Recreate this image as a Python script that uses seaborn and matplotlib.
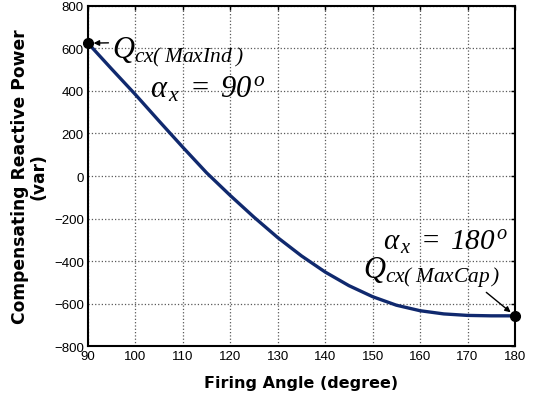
import matplotlib
matplotlib.use("Agg")
import matplotlib.pyplot as plt
import seaborn as sns
import pandas as pd

# Firing angle (degree) and compensating reactive power (var)
firing_angle = [90, 95, 100, 105, 110, 115, 120, 125, 130, 135, 140,
                145, 150, 155, 160, 165, 170, 175, 180]
reactive_power = [625, 503, 383, 258, 135, 15, -92, -194, -290, -376, -452,
                  -516, -568, -608, -634, -649, -656, -658, -658]

x_ticks = list(range(90, 181, 10))
y_ticks = list(range(-800, 801, 200))

df = pd.DataFrame({"angle": firing_angle, "q": reactive_power})

sns.set_style("white")
plt.rcParams["font.family"] = ["Liberation Sans", "DejaVu Sans"]
# Annotations are set entirely in italic serif, digits and brackets included
plt.rcParams["mathtext.fontset"] = "custom"
plt.rcParams["mathtext.it"] = "Liberation Serif:italic"
plt.rcParams["mathtext.rm"] = "Liberation Serif:italic"
plt.rcParams["text.color"] = "black"
plt.rcParams["axes.labelcolor"] = "black"

fig = plt.figure(figsize=(5.37, 4.02), dpi=100)
ax = fig.add_axes([0.1639, 0.1368, 0.7951, 0.8458])

sns.lineplot(data=df, x="angle", y="q", ax=ax, color="#10296e",
             linewidth=2.4, zorder=3)

# End-point markers
ax.plot([firing_angle[0], firing_angle[-1]],
        [reactive_power[0], reactive_power[-1]],
        "o", color="black", markersize=7, zorder=4, clip_on=False)

ax.set_xlim(90, 180)
ax.set_ylim(-800, 800)
ax.set_xticks(x_ticks)
ax.set_yticks(y_ticks)
ax.tick_params(direction="in", top=True, right=True, length=3,
               width=1, labelsize=9.5, pad=3, colors="black")

ax.grid(True, linestyle=":", color="0.35", linewidth=0.9)
for s in ax.spines.values():
    s.set_color("black")
    s.set_linewidth(1.5)

ax.set_xlabel("Firing Angle (degree)", labelpad=9, family="DejaVu Sans",
              fontsize=11.5, fontweight="bold")
ax.set_ylabel("Compensating Reactive Power\n(var)", linespacing=1.05,
              family="DejaVu Sans", fontsize=12.3, fontweight="bold")
ax.yaxis.set_label_coords(-0.094, 0.5)

# Annotations for the two operating limits
ax.annotate(r"$Q_{cx(\;MaxInd\;)}$",
            xy=(firing_angle[0], reactive_power[0]),
            xytext=(95.0, 560), fontsize=22, ha="left", va="baseline",
            arrowprops=dict(arrowstyle="-|>", color="black", lw=1.0,
                            shrinkA=0, shrinkB=4, mutation_scale=8,
                            relpos=(0.0, 0.75)))
ax.text(103.1, 372, r"$\alpha_{\,x}\;=\;90^{\,o}$", fontsize=22,
        ha="left", va="baseline")

ax.text(152.2, -344, r"$\alpha_{\,x}\;=\;180^{\,o}$", fontsize=21,
        ha="left", va="baseline")
ax.annotate(r"$Q_{cx(\;MaxCap\,)}$",
            xy=(firing_angle[-1], reactive_power[-1]),
            xytext=(148.0, -478), fontsize=22, ha="left", va="baseline",
            arrowprops=dict(arrowstyle="-|>", color="black", lw=1.0,
                            shrinkA=0, shrinkB=4, mutation_scale=8,
                            relpos=(0.87, 0.0)))

fig.savefig("out.png", dpi=100)
